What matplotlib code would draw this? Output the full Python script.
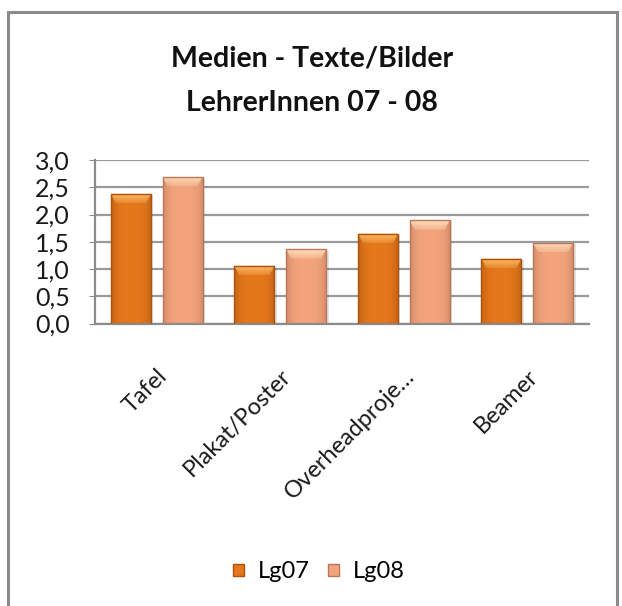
import matplotlib.pyplot as plt
import matplotlib.colors as mcolors
from matplotlib.patches import Rectangle, Polygon, Patch
import numpy as np

plt.rcParams['font.family'] = ['Lato', 'DejaVu Sans']

# Data
categories = ['Tafel', 'Plakat/Poster', 'Overheadproje…', 'Beamer']
lg07 = [2.38, 1.06, 1.65, 1.19]
lg08 = [2.69, 1.36, 1.89, 1.48]
series_names = ['Lg07', 'Lg08']
yticks = [0.0, 0.5, 1.0, 1.5, 2.0, 2.5, 3.0]

base_colors = ['#E5781C', '#F4A47C']
edge_colors = ['#A9530F', '#B8785A']
light_colors = ['#FFC36E', '#FFE2C2']

fig = plt.figure(figsize=(6.22, 6.06), dpi=100)
fig.patch.set_facecolor('white')

# outer chart frame (bottom runs off the canvas)
frame = Rectangle((8 / 622, -0.05), 609 / 622, 1.05 - 12 / 606,
                  transform=fig.transFigure, fill=False,
                  edgecolor='#8A8A8A', linewidth=2.2, zorder=0)
fig.patches.append(frame)

ax = fig.add_axes([95 / 622, 1 - 323.5 / 606, 494 / 622, 163.5 / 606])

x = np.arange(len(categories))
width = 0.324
offset = 0.209


def shade_bar(ax, patch, base, light, dark):
    # horizontal gradient: darker at the sides, brighter in the middle
    x0, y0 = patch.get_x(), patch.get_y()
    w, h = patch.get_width(), patch.get_height()
    t = np.linspace(-1, 1, 64)
    k = np.abs(t) ** 3
    c_base = np.array(mcolors.to_rgb(base))
    c_dark = np.array(mcolors.to_rgb(dark))
    row = c_base[None, :] * (1 - 0.55 * k[:, None]) + c_dark[None, :] * (0.55 * k[:, None])
    img = np.repeat(row[None, :, :], 2, axis=0)
    im = ax.imshow(img, extent=[x0, x0 + w, y0, y0 + h], aspect='auto',
                   interpolation='bilinear', zorder=2)
    im.set_clip_path(patch)
    # bevelled top cap, fading downwards
    bh = min(0.17, h * 0.5)
    inset = w * 0.12
    c_light = np.array(mcolors.to_rgb(light))
    grad = np.zeros((32, 2, 4))
    grad[..., :3] = c_light
    grad[..., 3] = np.linspace(0.95, 0.25, 32)[:, None]
    cap = Polygon([[x0, y0 + h], [x0 + w, y0 + h],
                   [x0 + w - inset, y0 + h - bh], [x0 + inset, y0 + h - bh]],
                  closed=True, facecolor='none', edgecolor='none', zorder=3)
    ax.add_patch(cap)
    ci = ax.imshow(grad, extent=[x0, x0 + w, y0 + h - bh, y0 + h],
                   aspect='auto', interpolation='bilinear', zorder=3,
                   origin='upper')
    ci.set_clip_path(cap)


for i, (vals, name) in enumerate(zip([lg07, lg08], series_names)):
    pos = x + (offset if i else -offset)
    bars = ax.bar(pos, vals, width, color=base_colors[i],
                  edgecolor=edge_colors[i], linewidth=1.0, zorder=4,
                  label=name)
    for b in bars:
        b.set_facecolor('none')
        shade_bar(ax, b, base_colors[i], light_colors[i], edge_colors[i])
        # soft drop shadow
        sh = Rectangle((b.get_x() + 0.02, b.get_y()), b.get_width(),
                       b.get_height() - 0.03, facecolor='#000000',
                       alpha=0.10, edgecolor='none', zorder=1)
        ax.add_patch(sh)

ax.set_xlim(-0.5, len(categories) - 0.5)
ax.set_ylim(0, 3.0)
ax.set_yticks(yticks)
ax.set_yticklabels([f'{v:.1f}'.replace('.', ',') for v in yticks],
                   fontsize=18, color='#1a1a1a')
ax.set_xticks(x)
ax.set_xticklabels(categories, rotation=45, ha='right',
                   rotation_mode='anchor', fontsize=17, color='#1a1a1a')
ax.tick_params(axis='x', length=0, pad=30)
ax.tick_params(axis='y', length=4, color='#8C8C8C', pad=14)

ax.grid(axis='y', color='#9A9A9A', linewidth=1.6, zorder=0)
ax.set_axisbelow(True)
for s in ['top', 'right']:
    ax.spines[s].set_visible(False)
for s in ['left', 'bottom']:
    ax.spines[s].set_color('#8C8C8C')
    ax.spines[s].set_linewidth(1.6)

# title
fig.text(312 / 622, 1 - 59 / 606, 'Medien - Texte/Bilder', ha='center',
         va='center', fontsize=20.5, fontweight='bold', color='#111111')
fig.text(312 / 622, 1 - 103 / 606, 'LehrerInnen 07 - 08', ha='center',
         va='center', fontsize=20.5, fontweight='bold', color='#111111')

handles = [Patch(facecolor=base_colors[i], edgecolor=edge_colors[i],
                 label=series_names[i]) for i in range(2)]
fig.legend(handles=handles, loc='center', bbox_to_anchor=(319 / 622, 1 - 572 / 606),
           ncol=2, frameon=False, fontsize=17, handlelength=0.45,
           handleheight=0.45, handletextpad=0.6, columnspacing=0.8)

fig.savefig('out.png', dpi=100, facecolor='white')
